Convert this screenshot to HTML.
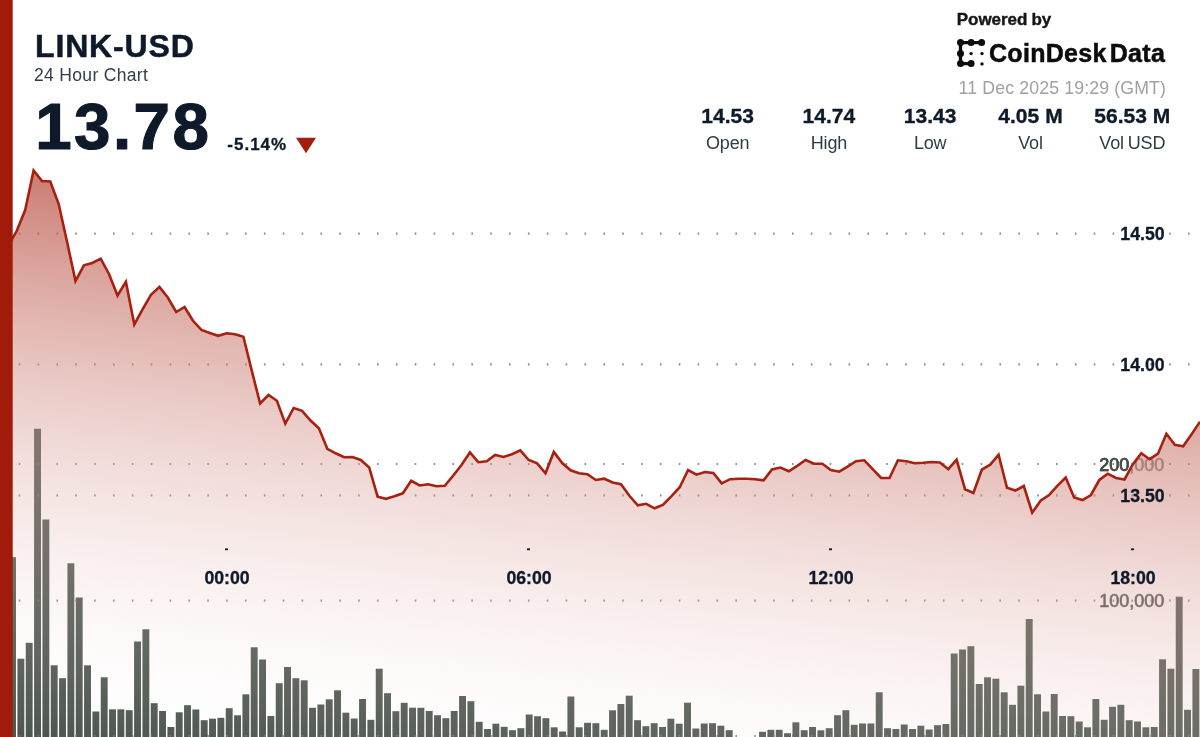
<!DOCTYPE html>
<html><head><meta charset="utf-8"><title>LINK-USD</title>
<style>
html,body{margin:0;padding:0;background:#fff;}
body{width:1200px;height:737px;overflow:hidden;position:relative;font-family:"Liberation Sans",sans-serif;}
svg{position:absolute;left:0;top:0;}
.t{position:absolute;white-space:nowrap;line-height:1;color:#0e1a2a;}
.b{font-weight:bold;}
.c{text-align:center;transform:translateX(-50%);}
.r{text-align:right;transform:translateX(-100%);}
#wrap{position:absolute;left:0;top:0;width:1200px;height:737px;will-change:transform;}
</style></head><body><div id="wrap">
<svg width="1200" height="737" viewBox="0 0 1200 737">
<defs>
<linearGradient id="g" x1="100.0" y1="10.0" x2="11.5" y2="747.4" gradientUnits="userSpaceOnUse">
<stop offset="0" stop-color="#a51d0c" stop-opacity="0.97"/>
<stop offset="1" stop-color="#ffffff" stop-opacity="0"/>
</linearGradient>
<clipPath id="above"><path d="M0,0 L0,250.0 L0.0,250.0 L8.4,245.5 L16.8,230.8 L25.2,210.0 L33.6,170.5 L42.0,181.0 L50.3,181.5 L58.7,204.0 L67.1,242.0 L75.5,281.0 L83.9,265.3 L92.3,263.0 L100.7,258.7 L109.1,274.2 L117.5,295.5 L125.9,281.7 L134.3,324.5 L142.7,309.2 L151.0,294.7 L159.4,287.0 L167.8,297.5 L176.2,312.0 L184.6,307.0 L193.0,320.8 L201.4,330.0 L209.8,333.0 L218.2,335.8 L226.6,333.3 L235.0,334.2 L243.4,336.7 L251.7,370.4 L260.1,403.5 L268.5,395.0 L276.9,400.8 L285.3,423.7 L293.7,408.0 L302.1,410.8 L310.5,420.5 L318.9,428.3 L327.3,448.8 L335.7,453.3 L344.1,457.2 L352.4,457.0 L360.8,460.0 L369.2,467.5 L377.6,496.7 L386.0,498.8 L394.4,496.3 L402.8,493.3 L411.2,480.8 L419.6,485.5 L428.0,484.2 L436.4,486.3 L444.8,485.8 L453.1,475.8 L461.5,465.0 L469.9,452.5 L478.3,462.2 L486.7,461.3 L495.1,455.0 L503.5,457.0 L511.9,454.2 L520.3,450.3 L528.7,460.0 L537.1,463.3 L545.5,473.3 L553.8,452.0 L562.2,463.0 L570.6,470.3 L579.0,473.3 L587.4,474.2 L595.8,480.0 L604.2,478.7 L612.6,482.5 L621.0,484.2 L629.4,495.8 L637.8,505.3 L646.2,503.8 L654.5,508.3 L662.9,505.0 L671.3,496.3 L679.7,487.2 L688.1,470.0 L696.5,474.7 L704.9,472.0 L713.3,473.0 L721.7,483.3 L730.1,479.2 L738.5,478.8 L746.9,478.8 L755.2,479.2 L763.6,480.3 L772.0,469.5 L780.4,467.5 L788.8,471.3 L797.2,465.8 L805.6,460.0 L814.0,463.8 L822.4,463.8 L830.8,470.0 L839.2,471.7 L847.6,466.7 L855.9,461.2 L864.3,460.3 L872.7,469.2 L881.1,478.0 L889.5,478.0 L897.9,460.3 L906.3,461.2 L914.7,463.3 L923.1,462.8 L931.5,462.0 L939.9,462.5 L948.3,469.2 L956.6,459.7 L965.0,489.2 L973.4,493.0 L981.8,469.7 L990.2,464.7 L998.6,454.7 L1007.0,487.8 L1015.4,490.5 L1023.8,486.0 L1032.2,512.7 L1040.6,500.8 L1049.0,495.0 L1057.3,485.8 L1065.7,477.5 L1074.1,497.5 L1082.5,500.0 L1090.9,495.0 L1099.3,480.0 L1107.7,473.7 L1116.1,478.0 L1124.5,479.5 L1132.9,464.2 L1141.3,453.3 L1149.7,459.2 L1158.0,453.7 L1166.4,433.8 L1174.8,444.7 L1183.2,446.3 L1191.6,434.2 L1200.0,421.7 L1200,0 Z"/></clipPath>
</defs>
<g id="vlabels" font-family="Liberation Sans, sans-serif" font-size="18" fill="#454c46" stroke="#454c46" stroke-width="0.6" text-anchor="end">
<text x="1164.3" y="470.5" opacity="0.7">200,000</text><text x="1164.3" y="470.5" clip-path="url(#above)">200,000</text><text x="1164.3" y="607.2">100,000</text>
</g>
<g fill="#4a544c"><rect x="0.75" y="600.0" width="6.90" height="137.0"/><rect x="9.08" y="557.2" width="6.90" height="179.8"/><rect x="17.42" y="658.7" width="6.90" height="78.3"/><rect x="25.75" y="642.8" width="6.90" height="94.2"/><rect x="34.08" y="428.7" width="6.90" height="308.3"/><rect x="42.42" y="519.5" width="6.90" height="217.5"/><rect x="50.75" y="665.3" width="6.90" height="71.7"/><rect x="59.08" y="678.2" width="6.90" height="58.8"/><rect x="67.42" y="563.3" width="6.90" height="173.7"/><rect x="75.75" y="597.5" width="6.90" height="139.5"/><rect x="84.08" y="665.3" width="6.90" height="71.7"/><rect x="92.42" y="711.5" width="6.90" height="25.5"/><rect x="100.75" y="677.3" width="6.90" height="59.7"/><rect x="109.08" y="709.3" width="6.90" height="27.7"/><rect x="117.42" y="709.3" width="6.90" height="27.7"/><rect x="125.75" y="710.2" width="6.90" height="26.8"/><rect x="134.08" y="641.5" width="6.90" height="95.5"/><rect x="142.42" y="629.3" width="6.90" height="107.7"/><rect x="150.75" y="703.2" width="6.90" height="33.8"/><rect x="159.08" y="711.0" width="6.90" height="26.0"/><rect x="167.42" y="727.0" width="6.90" height="10.0"/><rect x="175.75" y="712.3" width="6.90" height="24.7"/><rect x="184.08" y="705.2" width="6.90" height="31.8"/><rect x="192.42" y="709.5" width="6.90" height="27.5"/><rect x="200.75" y="720.2" width="6.90" height="16.8"/><rect x="209.08" y="718.7" width="6.90" height="18.3"/><rect x="217.42" y="717.8" width="6.90" height="19.2"/><rect x="225.75" y="708.2" width="6.90" height="28.8"/><rect x="234.08" y="715.3" width="6.90" height="21.7"/><rect x="242.42" y="694.3" width="6.90" height="42.7"/><rect x="250.75" y="647.3" width="6.90" height="89.7"/><rect x="259.08" y="659.5" width="6.90" height="77.5"/><rect x="267.42" y="716.0" width="6.90" height="21.0"/><rect x="275.75" y="683.2" width="6.90" height="53.8"/><rect x="284.08" y="667.0" width="6.90" height="70.0"/><rect x="292.42" y="678.2" width="6.90" height="58.8"/><rect x="300.75" y="680.3" width="6.90" height="56.7"/><rect x="309.08" y="707.8" width="6.90" height="29.2"/><rect x="317.42" y="704.5" width="6.90" height="32.5"/><rect x="325.75" y="699.3" width="6.90" height="37.7"/><rect x="334.08" y="690.3" width="6.90" height="46.7"/><rect x="342.42" y="712.7" width="6.90" height="24.3"/><rect x="350.75" y="718.5" width="6.90" height="18.5"/><rect x="359.08" y="699.0" width="6.90" height="38.0"/><rect x="367.42" y="719.8" width="6.90" height="17.2"/><rect x="375.75" y="668.7" width="6.90" height="68.3"/><rect x="384.08" y="693.2" width="6.90" height="43.8"/><rect x="392.42" y="711.2" width="6.90" height="25.8"/><rect x="400.75" y="702.8" width="6.90" height="34.2"/><rect x="409.08" y="707.7" width="6.90" height="29.3"/><rect x="417.42" y="707.8" width="6.90" height="29.2"/><rect x="425.75" y="711.0" width="6.90" height="26.0"/><rect x="434.08" y="715.2" width="6.90" height="21.8"/><rect x="442.42" y="718.2" width="6.90" height="18.8"/><rect x="450.75" y="711.0" width="6.90" height="26.0"/><rect x="459.08" y="696.0" width="6.90" height="41.0"/><rect x="467.42" y="701.2" width="6.90" height="35.8"/><rect x="475.75" y="721.8" width="6.90" height="15.2"/><rect x="484.08" y="729.0" width="6.90" height="8.0"/><rect x="492.42" y="723.7" width="6.90" height="13.3"/><rect x="500.75" y="726.8" width="6.90" height="10.2"/><rect x="509.08" y="730.2" width="6.90" height="6.8"/><rect x="517.42" y="728.2" width="6.90" height="8.8"/><rect x="525.75" y="714.5" width="6.90" height="22.5"/><rect x="534.08" y="716.2" width="6.90" height="20.8"/><rect x="542.42" y="718.2" width="6.90" height="18.8"/><rect x="550.75" y="727.3" width="6.90" height="9.7"/><rect x="559.08" y="731.5" width="6.90" height="5.5"/><rect x="567.42" y="696.5" width="6.90" height="40.5"/><rect x="575.75" y="727.3" width="6.90" height="9.7"/><rect x="584.08" y="722.8" width="6.90" height="14.2"/><rect x="592.42" y="723.2" width="6.90" height="13.8"/><rect x="600.75" y="729.8" width="6.90" height="7.2"/><rect x="609.08" y="710.3" width="6.90" height="26.7"/><rect x="617.42" y="704.0" width="6.90" height="33.0"/><rect x="625.75" y="695.7" width="6.90" height="41.3"/><rect x="634.08" y="720.2" width="6.90" height="16.8"/><rect x="642.42" y="726.2" width="6.90" height="10.8"/><rect x="650.75" y="723.2" width="6.90" height="13.8"/><rect x="659.08" y="727.0" width="6.90" height="10.0"/><rect x="667.42" y="718.7" width="6.90" height="18.3"/><rect x="675.75" y="723.7" width="6.90" height="13.3"/><rect x="684.08" y="702.7" width="6.90" height="34.3"/><rect x="692.42" y="728.5" width="6.90" height="8.5"/><rect x="700.75" y="723.5" width="6.90" height="13.5"/><rect x="709.08" y="723.2" width="6.90" height="13.8"/><rect x="717.42" y="725.7" width="6.90" height="11.3"/><rect x="725.75" y="730.2" width="6.90" height="6.8"/><rect x="759.08" y="731.8" width="6.90" height="5.2"/><rect x="767.42" y="729.8" width="6.90" height="7.2"/><rect x="775.75" y="729.8" width="6.90" height="7.2"/><rect x="784.08" y="733.2" width="6.90" height="3.8"/><rect x="792.42" y="722.3" width="6.90" height="14.7"/><rect x="800.75" y="730.2" width="6.90" height="6.8"/><rect x="809.08" y="727.0" width="6.90" height="10.0"/><rect x="817.42" y="730.3" width="6.90" height="6.7"/><rect x="825.75" y="728.2" width="6.90" height="8.8"/><rect x="834.08" y="715.2" width="6.90" height="21.8"/><rect x="842.42" y="710.2" width="6.90" height="26.8"/><rect x="850.75" y="724.8" width="6.90" height="12.2"/><rect x="859.08" y="723.5" width="6.90" height="13.5"/><rect x="867.42" y="723.5" width="6.90" height="13.5"/><rect x="875.75" y="692.3" width="6.90" height="44.7"/><rect x="884.08" y="728.2" width="6.90" height="8.8"/><rect x="892.42" y="729.0" width="6.90" height="8.0"/><rect x="900.75" y="724.5" width="6.90" height="12.5"/><rect x="909.08" y="729.0" width="6.90" height="8.0"/><rect x="917.42" y="725.7" width="6.90" height="11.3"/><rect x="925.75" y="729.5" width="6.90" height="7.5"/><rect x="934.08" y="725.2" width="6.90" height="11.8"/><rect x="942.42" y="724.0" width="6.90" height="13.0"/><rect x="950.75" y="653.5" width="6.90" height="83.5"/><rect x="959.08" y="649.5" width="6.90" height="87.5"/><rect x="967.42" y="646.2" width="6.90" height="90.8"/><rect x="975.75" y="684.0" width="6.90" height="53.0"/><rect x="984.08" y="677.3" width="6.90" height="59.7"/><rect x="992.42" y="678.7" width="6.90" height="58.3"/><rect x="1000.75" y="692.3" width="6.90" height="44.7"/><rect x="1009.08" y="704.8" width="6.90" height="32.2"/><rect x="1017.42" y="685.7" width="6.90" height="51.3"/><rect x="1025.75" y="619.0" width="6.90" height="118.0"/><rect x="1034.08" y="694.3" width="6.90" height="42.7"/><rect x="1042.42" y="711.5" width="6.90" height="25.5"/><rect x="1050.75" y="694.0" width="6.90" height="43.0"/><rect x="1059.08" y="716.0" width="6.90" height="21.0"/><rect x="1067.42" y="716.2" width="6.90" height="20.8"/><rect x="1075.75" y="721.5" width="6.90" height="15.5"/><rect x="1084.08" y="727.3" width="6.90" height="9.7"/><rect x="1092.42" y="699.0" width="6.90" height="38.0"/><rect x="1100.75" y="719.8" width="6.90" height="17.2"/><rect x="1109.08" y="706.8" width="6.90" height="30.2"/><rect x="1117.42" y="704.8" width="6.90" height="32.2"/><rect x="1125.75" y="720.2" width="6.90" height="16.8"/><rect x="1134.08" y="721.5" width="6.90" height="15.5"/><rect x="1142.42" y="727.3" width="6.90" height="9.7"/><rect x="1150.75" y="727.0" width="6.90" height="10.0"/><rect x="1159.08" y="659.3" width="6.90" height="77.7"/><rect x="1167.42" y="668.7" width="6.90" height="68.3"/><rect x="1175.75" y="596.7" width="6.90" height="140.3"/><rect x="1184.08" y="709.8" width="6.90" height="27.2"/><rect x="1192.42" y="669.0" width="6.90" height="68.0"/></g>
<g stroke="#6e7070" stroke-opacity="0.8" stroke-width="2.2" stroke-dasharray="1.6 17.26" fill="none"><line x1="18.7" x2="1200" y1="233.6" y2="233.6"/><line x1="18.7" x2="1200" y1="364.3" y2="364.3"/><line x1="18.7" x2="1200" y1="495.3" y2="495.3"/><line x1="18.7" x2="1200" y1="464.0" y2="464.0"/><line x1="18.7" x2="1200" y1="600.6" y2="600.6"/><line x1="18.7" x2="1200" y1="736.2" y2="736.2"/></g>
<path d="M0,250.0 L0.0,250.0 L8.4,245.5 L16.8,230.8 L25.2,210.0 L33.6,170.5 L42.0,181.0 L50.3,181.5 L58.7,204.0 L67.1,242.0 L75.5,281.0 L83.9,265.3 L92.3,263.0 L100.7,258.7 L109.1,274.2 L117.5,295.5 L125.9,281.7 L134.3,324.5 L142.7,309.2 L151.0,294.7 L159.4,287.0 L167.8,297.5 L176.2,312.0 L184.6,307.0 L193.0,320.8 L201.4,330.0 L209.8,333.0 L218.2,335.8 L226.6,333.3 L235.0,334.2 L243.4,336.7 L251.7,370.4 L260.1,403.5 L268.5,395.0 L276.9,400.8 L285.3,423.7 L293.7,408.0 L302.1,410.8 L310.5,420.5 L318.9,428.3 L327.3,448.8 L335.7,453.3 L344.1,457.2 L352.4,457.0 L360.8,460.0 L369.2,467.5 L377.6,496.7 L386.0,498.8 L394.4,496.3 L402.8,493.3 L411.2,480.8 L419.6,485.5 L428.0,484.2 L436.4,486.3 L444.8,485.8 L453.1,475.8 L461.5,465.0 L469.9,452.5 L478.3,462.2 L486.7,461.3 L495.1,455.0 L503.5,457.0 L511.9,454.2 L520.3,450.3 L528.7,460.0 L537.1,463.3 L545.5,473.3 L553.8,452.0 L562.2,463.0 L570.6,470.3 L579.0,473.3 L587.4,474.2 L595.8,480.0 L604.2,478.7 L612.6,482.5 L621.0,484.2 L629.4,495.8 L637.8,505.3 L646.2,503.8 L654.5,508.3 L662.9,505.0 L671.3,496.3 L679.7,487.2 L688.1,470.0 L696.5,474.7 L704.9,472.0 L713.3,473.0 L721.7,483.3 L730.1,479.2 L738.5,478.8 L746.9,478.8 L755.2,479.2 L763.6,480.3 L772.0,469.5 L780.4,467.5 L788.8,471.3 L797.2,465.8 L805.6,460.0 L814.0,463.8 L822.4,463.8 L830.8,470.0 L839.2,471.7 L847.6,466.7 L855.9,461.2 L864.3,460.3 L872.7,469.2 L881.1,478.0 L889.5,478.0 L897.9,460.3 L906.3,461.2 L914.7,463.3 L923.1,462.8 L931.5,462.0 L939.9,462.5 L948.3,469.2 L956.6,459.7 L965.0,489.2 L973.4,493.0 L981.8,469.7 L990.2,464.7 L998.6,454.7 L1007.0,487.8 L1015.4,490.5 L1023.8,486.0 L1032.2,512.7 L1040.6,500.8 L1049.0,495.0 L1057.3,485.8 L1065.7,477.5 L1074.1,497.5 L1082.5,500.0 L1090.9,495.0 L1099.3,480.0 L1107.7,473.7 L1116.1,478.0 L1124.5,479.5 L1132.9,464.2 L1141.3,453.3 L1149.7,459.2 L1158.0,453.7 L1166.4,433.8 L1174.8,444.7 L1183.2,446.3 L1191.6,434.2 L1200.0,421.7 L1200,737 L0,737 Z" fill="url(#g)"/>
<polyline points="0.0,250.0 8.4,245.5 16.8,230.8 25.2,210.0 33.6,170.5 42.0,181.0 50.3,181.5 58.7,204.0 67.1,242.0 75.5,281.0 83.9,265.3 92.3,263.0 100.7,258.7 109.1,274.2 117.5,295.5 125.9,281.7 134.3,324.5 142.7,309.2 151.0,294.7 159.4,287.0 167.8,297.5 176.2,312.0 184.6,307.0 193.0,320.8 201.4,330.0 209.8,333.0 218.2,335.8 226.6,333.3 235.0,334.2 243.4,336.7 251.7,370.4 260.1,403.5 268.5,395.0 276.9,400.8 285.3,423.7 293.7,408.0 302.1,410.8 310.5,420.5 318.9,428.3 327.3,448.8 335.7,453.3 344.1,457.2 352.4,457.0 360.8,460.0 369.2,467.5 377.6,496.7 386.0,498.8 394.4,496.3 402.8,493.3 411.2,480.8 419.6,485.5 428.0,484.2 436.4,486.3 444.8,485.8 453.1,475.8 461.5,465.0 469.9,452.5 478.3,462.2 486.7,461.3 495.1,455.0 503.5,457.0 511.9,454.2 520.3,450.3 528.7,460.0 537.1,463.3 545.5,473.3 553.8,452.0 562.2,463.0 570.6,470.3 579.0,473.3 587.4,474.2 595.8,480.0 604.2,478.7 612.6,482.5 621.0,484.2 629.4,495.8 637.8,505.3 646.2,503.8 654.5,508.3 662.9,505.0 671.3,496.3 679.7,487.2 688.1,470.0 696.5,474.7 704.9,472.0 713.3,473.0 721.7,483.3 730.1,479.2 738.5,478.8 746.9,478.8 755.2,479.2 763.6,480.3 772.0,469.5 780.4,467.5 788.8,471.3 797.2,465.8 805.6,460.0 814.0,463.8 822.4,463.8 830.8,470.0 839.2,471.7 847.6,466.7 855.9,461.2 864.3,460.3 872.7,469.2 881.1,478.0 889.5,478.0 897.9,460.3 906.3,461.2 914.7,463.3 923.1,462.8 931.5,462.0 939.9,462.5 948.3,469.2 956.6,459.7 965.0,489.2 973.4,493.0 981.8,469.7 990.2,464.7 998.6,454.7 1007.0,487.8 1015.4,490.5 1023.8,486.0 1032.2,512.7 1040.6,500.8 1049.0,495.0 1057.3,485.8 1065.7,477.5 1074.1,497.5 1082.5,500.0 1090.9,495.0 1099.3,480.0 1107.7,473.7 1116.1,478.0 1124.5,479.5 1132.9,464.2 1141.3,453.3 1149.7,459.2 1158.0,453.7 1166.4,433.8 1174.8,444.7 1183.2,446.3 1191.6,434.2 1200.0,421.7" fill="none" stroke="#a82010" stroke-width="2.6" stroke-linejoin="miter" stroke-linecap="butt"/>
<rect x="0" y="0" width="12.7" height="737" fill="#a11b0a"/>
<g fill="#0e1a2a">
<rect x="225" y="548.4" width="3" height="1.8"/>
<rect x="527" y="548.4" width="3" height="1.8"/>
<rect x="829" y="548.4" width="3" height="1.8"/>
<rect x="1131" y="548.4" width="3" height="1.8"/>
</g>
<g font-family="Liberation Sans, sans-serif" font-weight="bold" font-size="17.7" fill="#0e1a2a" stroke="#0e1a2a" stroke-width="0.3">
<g text-anchor="end">
<text x="1164.6" y="239.8">14.50</text>
<text x="1164.6" y="370.5">14.00</text>
<text x="1164.6" y="501.5">13.50</text>
</g>
<g text-anchor="middle">
<text x="227" y="584">00:00</text>
<text x="529" y="584">06:00</text>
<text x="831" y="584">12:00</text>
<text x="1133" y="584">18:00</text>
</g>
</g>
<polygon points="296,137.8 316,137.8 306,153.3" fill="#a41c0b"/>
<!-- logo -->
<g fill="#0c0c0c" stroke="#0c0c0c">
<path d="M981.6,42.6 H960.5 V63.6 H971.1" fill="none" stroke-width="3.3" stroke-linecap="round" stroke-linejoin="round"/>
<circle cx="960.5" cy="42.6" r="3.5" stroke="none"/>
<circle cx="971.1" cy="42.6" r="3.5" stroke="none"/>
<circle cx="981.6" cy="42.6" r="3.5" stroke="none"/>
<circle cx="960.5" cy="53.6" r="3.5" stroke="none"/>
<circle cx="960.5" cy="63.6" r="3.5" stroke="none"/>
<circle cx="971.1" cy="63.6" r="3.5" stroke="none"/>
<circle cx="971.1" cy="53.6" r="1.7" stroke="none"/>
<circle cx="982" cy="53.6" r="1.7" stroke="none"/>
<circle cx="982" cy="63.9" r="1.7" stroke="none"/>
</g>
</svg>
<div class="t b" id="title" style="left:35px;top:30.0px;font-size:32px;letter-spacing:0.85px;-webkit-text-stroke:0.5px #0e1a2a;">LINK-USD</div>
<div class="t" id="sub" style="left:34px;top:66.6px;font-size:17.5px;color:#333d49;letter-spacing:0.33px;">24 Hour Chart</div>
<div class="t b" id="price" style="left:35.2px;top:93.9px;font-size:65.5px;letter-spacing:2.45px;-webkit-text-stroke:1.2px #0e1a2a;">13.78</div>
<div class="t b" id="chg" style="left:227.3px;top:135.8px;font-size:17px;letter-spacing:1.0px;-webkit-text-stroke:0.3px #0e1a2a;">-5.14%</div>
<div class="t b" id="pow" style="left:956.8px;top:11px;font-size:17px;color:#161616;letter-spacing:-0.05px;word-spacing:-0.5px;-webkit-text-stroke:0.4px #161616;">Powered by</div>
<div class="t b" id="cd" style="left:989px;top:41.3px;font-size:25px;color:#0c0c0c;letter-spacing:0.3px;-webkit-text-stroke:0.5px #0c0c0c;">CoinDesk<span style="margin-left:3px">Data</span></div>
<div class="t" id="date" style="left:958.5px;top:79.6px;font-size:17.7px;color:#a0a0a0;letter-spacing:0.15px;">11 Dec 2025 19:29 (GMT)</div>
<div class="t b c" style="left:727.7px;top:105.2px;font-size:21px;letter-spacing:0.05px;-webkit-text-stroke:0.35px #0e1a2a;">14.53</div>
<div class="t c" style="left:727.7px;top:133.9px;font-size:18px;color:#303a46;word-spacing:-1px;letter-spacing:-0.15px;">Open</div>
<div class="t b c" style="left:828.9px;top:105.2px;font-size:21px;letter-spacing:0.05px;-webkit-text-stroke:0.35px #0e1a2a;">14.74</div>
<div class="t c" style="left:828.9px;top:133.9px;font-size:18px;color:#303a46;word-spacing:-1px;letter-spacing:-0.15px;">High</div>
<div class="t b c" style="left:930.2px;top:105.2px;font-size:21px;letter-spacing:0.05px;-webkit-text-stroke:0.35px #0e1a2a;">13.43</div>
<div class="t c" style="left:930.2px;top:133.9px;font-size:18px;color:#303a46;word-spacing:-1px;letter-spacing:-0.15px;">Low</div>
<div class="t b c" style="left:1030.5px;top:105.2px;font-size:21px;letter-spacing:0.05px;-webkit-text-stroke:0.35px #0e1a2a;">4.05 M</div>
<div class="t c" style="left:1030.5px;top:133.9px;font-size:18px;color:#303a46;word-spacing:-1px;letter-spacing:-0.15px;">Vol</div>
<div class="t b c" style="left:1132.3px;top:105.2px;font-size:21px;letter-spacing:0.05px;-webkit-text-stroke:0.35px #0e1a2a;">56.53 M</div>
<div class="t c" style="left:1132.3px;top:133.9px;font-size:18px;color:#303a46;word-spacing:-1px;letter-spacing:-0.15px;">Vol USD</div>
</div></body></html>
